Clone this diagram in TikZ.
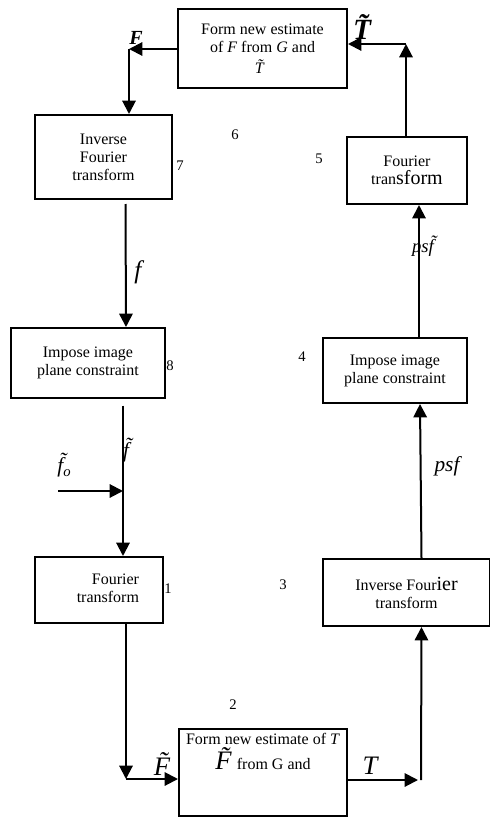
\documentclass[tikz,border=0pt]{standalone}
\usepackage{fontspec}
\setmainfont{Liberation Serif}
\usepackage{tikz}
\usetikzlibrary{arrows.meta}
\tikzset{every picture/.style={line width=1.5pt}}
\tikzset{
  blk/.style={draw, rectangle, line width=1.5pt, inner sep=0pt, align=center,
    font=\fontsize{12}{13.5}\selectfont},
  arr/.style={-{Triangle[length=10pt,width=10pt]}},
  numlbl/.style={inner sep=0pt, font=\fontsize{11}{11}\selectfont},
  varlbl/.style={inner sep=0pt, font=\itshape}
}

\begin{document}
\begin{tikzpicture}[x=0.75pt,y=0.75pt,yscale=-1,xscale=1]
		\useasboundingbox (0,0) rectangle (489,817);
		
		%Shape: Rectangle [id:est1] 
		\node [blk, minimum width=126.75pt, minimum height=59.25pt] (est1) at (262.5,48.5) {Form new estimate\\ of \textit{F} from \textit{G} and\\[2pt] \textit{\~T}};
		%Shape: Rectangle [id:inv1] 
		\node [blk, minimum width=102.75pt, minimum height=63pt] (inv1) at (103.5,157) {Inverse\\ Fourier\\ transform};
		%Shape: Rectangle [id:ft2] 
		\node [blk, minimum width=90pt, minimum height=50.25pt] (ft2) at (407,170.5) {Fourier\\ tran{\fontsize{15}{15}\selectfont sform}};
		%Shape: Rectangle [id:imp1] 
		\node [blk, minimum width=115.5pt, minimum height=52.5pt] (imp1) at (88,363) {Impose image\\ plane constraint};
		%Shape: Rectangle [id:imp2] 
		\node [blk, minimum width=108pt, minimum height=48.75pt] (imp2) at (395,370.5) {Impose image\\ plane constraint};
		%Shape: Rectangle [id:ft1] 
		\node [blk, minimum width=96pt, minimum height=49.5pt] (ft1) at (99,590) {\phantom{x}};
		\node [anchor=east, inner sep=0pt, align=right, font=\fontsize{12}{13.5}\selectfont] (ft1txt) at (140,588) {Fourier\\ transform};
		%Shape: Rectangle [id:inv2] 
		\node [blk, minimum width=125.25pt, minimum height=50.25pt] (inv2) at (406.5,592.5) {Inverse Four{\fontsize{15}{15}\selectfont ier}\\ transform};
		%Shape: Rectangle [id:est2] 
		\node [blk, minimum width=126pt, minimum height=65.25pt] (est2) at (263,772.5) {\phantom{x}};
		\node [anchor=north, inner sep=0pt, align=center, font=\fontsize{12}{13.5}\selectfont] (est2txt) at ([yshift=3pt]est2.north) {Form new estimate of \textit{T}\\[1pt] {\fontsize{20}{20}\selectfont\textit{\~F}}\hspace{-4pt}from G and};
		
		%Corners
		\coordinate (cF) at (129,49);
		\coordinate (cT) at (406,44);
		\coordinate (fo) at (58,491);
		\coordinate (jf) at (123,491);
		\coordinate (cFt) at (126,779);
		\coordinate (cTb) at (418,780);
		
		%Straight Lines [id:top left]
		\draw [arr] (est1.west |- cF) -- (cF) ;
		\draw [arr] (cF) -- (cF |- inv1.north) ;
		%Straight Lines [id:left column]
		\draw [arr] ([xshift=16.5pt,yshift=3pt]inv1.south) -- ([xshift=28.5pt]imp1.north) ;
		\draw ([xshift=26.25pt,yshift=5pt]imp1.south) -- (jf) ;
		\draw [arr] (fo) -- (jf) ;
		\draw [arr] (jf) -- ([xshift=18pt]ft1.north) ;
		\draw [arr] ([xshift=20.25pt]ft1.south) -- (cFt) ;
		\draw [arr] (cFt) -- (est2.west |- cFt) ;
		%Straight Lines [id:right column]
		\draw [arr] (est2.east |- cTb) -- (cTb) ;
		\draw [arr] ([xshift=2.25pt]cTb) -- ([xshift=11.25pt]inv2.south) ;
		\draw [arr] ([xshift=11.25pt]inv2.north) -- ([xshift=18.75pt]imp2.south) ;
		\draw [arr] ([xshift=18pt]imp2.north) -- ([xshift=9pt]ft2.south) ;
		\draw [arr] ([xshift=-0.75pt]ft2.north) -- (cT) ;
		\draw [arr] (cT) -- (est1.east |- cT) ;
		
		% Text Node
		\node [varlbl, font=\fontsize{15}{15}\selectfont\itshape\bfseries] (lF) at (136,38) {F};
		% Text Node
		\node [varlbl, font=\fontsize{22}{22}\selectfont\itshape\bfseries] (lTt) at (362,27) {\~T};
		% Text Node
		\node [varlbl, font=\fontsize{19}{19}\selectfont\itshape] (lf) at (138,272) {f};
		% Text Node
		\node [varlbl, font=\fontsize{16}{16}\selectfont\itshape] (lft) at (126,450) {\~f};
		% Text Node
		\node [varlbl, font=\fontsize{16}{16}\selectfont\itshape] (lfo) at (64,465) {\~f\raisebox{-3pt}{\fontsize{11}{11}\selectfont o}};
		% Text Node
		\node [varlbl, font=\fontsize{20}{20}\selectfont\itshape] (lFt) at (162,764) {\~F};
		% Text Node
		\node [varlbl, font=\fontsize{20}{20}\selectfont\itshape] (lT) at (370,766) {T};
		% Text Node
		\node [varlbl, font=\fontsize{16}{16}\selectfont\itshape] (lpsf) at (447,466) {psf};
		% Text Node
		\node [varlbl, font=\fontsize{14}{14}\selectfont\itshape] (lpsft) at (423,246) {ps\~f};
		
		% Text Node
		\node [numlbl] (n6) at (235,135) {6};
		\node [numlbl] (n7) at (180,166) {7};
		\node [numlbl] (n5) at (319,159) {5};
		\node [numlbl] (n8) at (170,366) {8};
		\node [numlbl] (n4) at (302,357) {4};
		\node [numlbl] (n1) at (168,589) {1};
		\node [numlbl] (n3) at (283,585) {3};
		\node [numlbl] (n2) at (233,705) {2};
		
\end{tikzpicture}
\end{document}
